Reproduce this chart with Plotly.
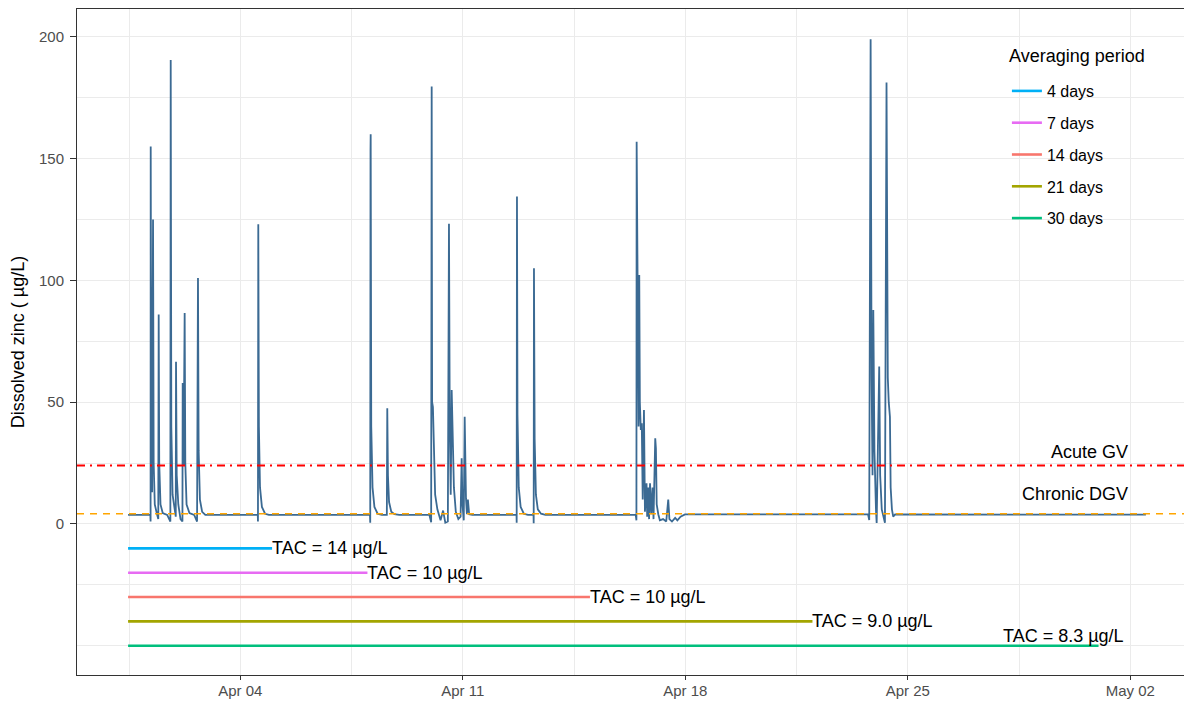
import pandas as pd
import plotly.graph_objects as go

# ---------------- data ----------------
BASE_DATE = "2021-03-31"  # day 0 = Mar 31 00:00

# dissolved zinc time series: time in days since Mar 31 00:00, value in ug/L
zinc_days = [
    0.47, 1.17, 1.178, 1.182, 1.20, 1.225, 1.255, 1.275, 1.31, 1.38, 1.42, 1.433, 1.45, 1.49, 1.56, 1.70,
    1.80, 1.811, 1.83, 1.87, 1.95, 1.97, 1.978, 2.00, 2.05, 2.12, 2.18, 2.188, 2.215, 2.25, 2.27, 2.31,
    2.40, 2.55, 2.64, 2.669, 2.69, 2.73, 2.80, 2.90,
    4.55, 4.556, 4.566, 4.585, 4.62, 4.68, 4.78, 4.90,
    8.08, 8.088, 8.097, 8.102, 8.12, 8.16, 8.22, 8.32, 8.45,
    8.61, 8.624, 8.645, 8.68, 8.75, 8.85, 9.00,
    9.95, 10.005, 10.021, 10.035, 10.06, 10.09, 10.13, 10.20, 10.30, 10.38, 10.45, 10.53, 10.565, 10.59,
    10.62, 10.65, 10.675, 10.72, 10.78, 10.86, 10.93, 10.964, 10.99, 11.03, 11.059, 11.08, 11.10, 11.13,
    11.16, 11.20, 11.30,
    12.69, 12.695, 12.704, 12.72, 12.76, 12.82, 12.92, 13.05,
    13.225, 13.23, 13.239, 13.26, 13.30, 13.36, 13.46, 13.60,
    16.44, 16.462, 16.469, 16.50, 16.53, 16.551, 16.57, 16.60, 16.63, 16.66, 16.699, 16.73, 16.78, 16.80,
    16.83, 16.86, 16.89, 16.93, 16.97, 17.00, 17.054, 17.075, 17.10, 17.15, 17.20, 17.30, 17.40, 17.463,
    17.50, 17.58, 17.68, 17.75, 17.85, 17.99,
    23.75, 23.786, 23.83, 23.86, 23.89, 23.914, 23.95, 24.00, 24.02, 24.10, 24.13, 24.18, 24.26, 24.28,
    24.33, 24.37, 24.40, 24.437, 24.46, 24.50, 24.54, 24.60,
    32.49,
]
zinc_ugL = [
    3.7, 3.7, 1.0, 155, 30, 13, 125, 25, 8, 4.0, 2.0, 86, 25, 8, 4.5, 3.7,
    1.0, 190.5, 40, 12, 5.7, 3.0, 66.6, 20, 8, 2.0, 1.0, 57.9, 24, 86.6, 25, 8,
    4.5, 3.7, 1.0, 101, 30, 10, 5, 3.7,
    3.7, 1.0, 123, 40, 15, 7, 4.2, 3.7,
    3.7, 0.5, 153, 160, 40, 15, 7, 4.2, 3.7,
    3.7, 47.5, 20, 9, 5, 4.0, 3.7,
    3.7, 0.7, 179.6, 50, 48, 30, 12, 6, 1.5, 5.5, 0.5, 1.0, 123.2, 40,
    12, 55, 35, 15, 5, 2, 3, 27, 8, 1.5, 44, 15, 10.5, 4,
    10, 4, 3.7,
    3.7, 0.5, 134.4, 45, 15, 7, 4.2, 3.7,
    3.7, 0.3, 105, 35, 12, 6, 4.2, 3.7,
    3.7, 1.5, 156.9, 60, 40, 102.2, 50, 38.6, 41.3, 10, 46.8, 5, 16.7, 3,
    15, 2, 16.7, 4, 15, 2, 35.2, 31, 8, 4, 1.5, 2.0, 1.0, 10,
    2, 1, 2.5, 1.5, 3.0, 3.9,
    3.9, 1.6, 199, 60, 20, 87.8, 30, 5, 0.4, 64.6, 20, 6, 1.0, 0.5,
    181.2, 60, 50, 44, 15, 6, 3.0, 3.9,
    3.8,
]

# time-averaged concentrations (TAC) per averaging period
periods = ["4 days", "7 days", "14 days", "21 days", "30 days"]
period_colors = ["#00B0F6", "#E76BF3", "#F8766D", "#A3A500", "#00BF7D"]
tac_text = ["TAC = 14 µg/L", "TAC = 10 µg/L", "TAC = 10 µg/L", "TAC = 9.0 µg/L", "TAC = 8.3 µg/L"]
tac_start_day = 0.47
tac_end_day = [5, 8, 15, 22, 31]
tac_level = [-10, -20, -30, -40, -50]
tac_label_day = [5, 8, 15, 22, 28]
tac_label_level = [-10, -20, -30, -40, -46]

# guideline values
acute_gv = 24.0
chronic_dgv = 4.2
guide_label_day = 32

x_ticks_days = [4, 11, 18, 25, 32]
x_tick_text = ["Apr 04", "Apr 11", "Apr 18", "Apr 25", "May 02"]
x_minor_days = [0.5, 7.5, 14.5, 21.5, 28.5]
y_ticks = [0, 50, 100, 150, 200]
y_minor = [-50, -25, 25, 75, 125, 175]
x_range_days = [-1.137, 33.94]
y_range = [-62.0, 211.4]


def to_dt(days):
    return pd.Timestamp(BASE_DATE) + pd.to_timedelta(days, unit="D")


FONT = "Liberation Sans, Arial, sans-serif"
fig = go.Figure()

fig.add_trace(go.Scatter(
    x=[to_dt(d) for d in zinc_days], y=zinc_ugL, mode="lines",
    line=dict(color="#3B6A93", width=1.8), showlegend=False, hoverinfo="skip",
))

for i, p in enumerate(periods):
    fig.add_trace(go.Scatter(
        x=[to_dt(tac_start_day), to_dt(tac_end_day[i])], y=[tac_level[i], tac_level[i]],
        mode="lines", line=dict(color=period_colors[i], width=2.6), name=p,
        legendgroup=p, showlegend=True, hoverinfo="skip",
    ))
    fig.add_annotation(
        x=to_dt(tac_label_day[i]), y=tac_label_level[i], text=tac_text[i], showarrow=False,
        xanchor="left", yanchor="middle", xshift=-2, font=dict(family=FONT, size=18, color="#000000"),
    )

fig.add_shape(type="line", xref="paper", x0=0, x1=1, y0=acute_gv, y1=acute_gv,
              line=dict(color="#FF0000", width=1.8, dash="8px,5px,2px,5px"))
fig.add_shape(type="line", xref="paper", x0=0, x1=1, y0=chronic_dgv, y1=chronic_dgv,
              line=dict(color="#FFA500", width=1.6, dash="7px,6px"))
fig.add_annotation(x=to_dt(guide_label_day), y=acute_gv, text="Acute GV", showarrow=False,
                   xanchor="right", yanchor="bottom", yshift=2, font=dict(family=FONT, size=18, color="#000000"))
fig.add_annotation(x=to_dt(guide_label_day), y=chronic_dgv, text="Chronic DGV", showarrow=False,
                   xanchor="right", yanchor="bottom", yshift=8, font=dict(family=FONT, size=18, color="#000000"))

# legend background box (covers the grid, like ggplot's legend box) and legend title
fig.add_shape(type="rect", xref="paper", yref="paper", x0=0.825, x1=0.982, y0=0.6577, y1=0.961,
              fillcolor="white", line=dict(width=0), layer="between")
fig.add_annotation(xref="paper", yref="paper", x=0.834, y=0.9294, text="Averaging period",
                   showarrow=False, xanchor="left", yanchor="middle",
                   font=dict(family=FONT, size=18, color="#000000"))

grid = "#EBEBEB"
fig.update_layout(
    width=1184, height=694,
    margin=dict(l=69, r=0, t=1, b=27),
    paper_bgcolor="white", plot_bgcolor="white",
    font=dict(family=FONT, color="#000000"),
    xaxis=dict(
        type="date", range=[to_dt(x_range_days[0]), to_dt(x_range_days[1])],
        tickmode="array", tickvals=[to_dt(d) for d in x_ticks_days], ticktext=x_tick_text,
        ticks="outside", ticklen=4, tickcolor="#333333", tickwidth=1, ticklabelstandoff=-2,
        tickfont=dict(family=FONT, size=15, color="#4D4D4D"),
        showgrid=True, gridcolor=grid, gridwidth=1.2,
        minor=dict(tickmode="array", tickvals=[to_dt(d) for d in x_minor_days], showgrid=True,
                   gridcolor=grid, gridwidth=0.6, ticks=""),
        showline=True, mirror=True, linecolor="#333333", linewidth=1, zeroline=False,
    ),
    yaxis=dict(
        range=y_range, tickmode="array", tickvals=y_ticks,
        ticks="outside", ticklen=6, tickcolor="#333333", tickwidth=1, ticklabelstandoff=3,
        tickfont=dict(family=FONT, size=15, color="#4D4D4D"),
        showgrid=True, gridcolor=grid, gridwidth=1.2,
        minor=dict(tickmode="array", tickvals=y_minor, showgrid=True, gridcolor=grid, gridwidth=0.6, ticks=""),
        showline=True, mirror=True, linecolor="#333333", linewidth=1, zeroline=False,
        title=dict(text="Dissolved zinc ( µg/L)", font=dict(family=FONT, size=18, color="#000000"), standoff=10),
    ),
    legend=dict(
        font=dict(family=FONT, size=16, color="#000000"),
        x=0.834, y=0.9024, xanchor="left", yanchor="top",
        bgcolor="rgba(255,255,255,0)", borderwidth=0, itemwidth=30, tracegroupgap=8,
    ),
)

fig.write_html("out.html")
